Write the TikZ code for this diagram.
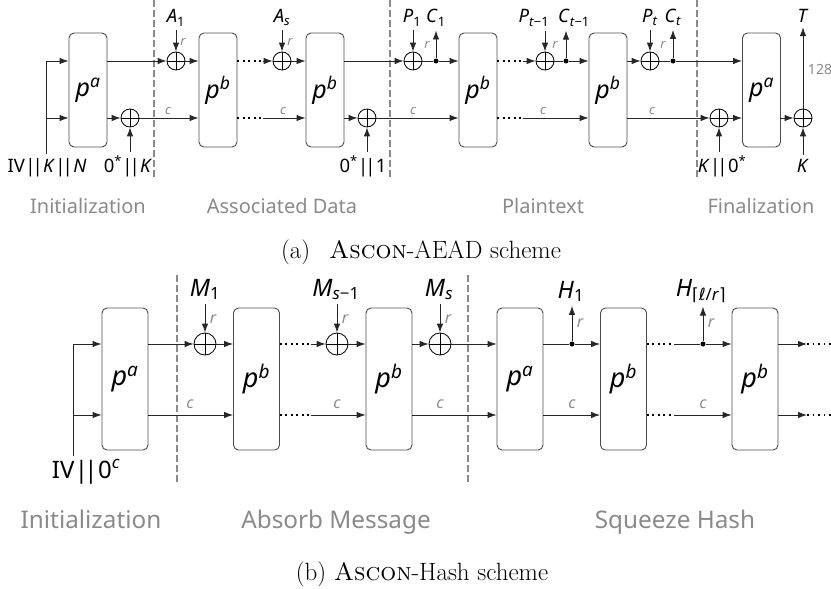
\documentclass[tikz,border=0pt]{standalone}
\usepackage{fontspec}
\newfontfamily\fira{Noto Sans}
\newfontfamily\dv{DejaVu Sans}
\usetikzlibrary{arrows.meta}
\definecolor{lg}{HTML}{8A8A8A}
\newcommand\dbar{\kern0.02em|\kern-0.16em|\kern0.02em}
\tikzset{
 ln/.style={draw=black!85, line width=0.9pt},
 arr/.style={ln, -{Latex[length=9pt,width=6.5pt]}},
 dotl/.style={draw=black, line width=1.7pt, dash pattern=on 1.7pt off 3.8pt},
 sep/.style={draw=lg, line width=2.4pt, dash pattern=on 6.5pt off 3.5pt},
 boxa/.style={draw=black!70, line width=0.9pt, rounded corners=5pt, minimum width=38pt, minimum height=114pt, inner sep=0pt, font=\fira\itshape\fontsize{25}{30}\selectfont},
 boxb/.style={boxa, minimum width=46pt, minimum height=142pt, font=\fira\itshape\fontsize{27}{30}\selectfont},
 xo/.style={circle, draw=black, line width=0.8pt, minimum size=18pt, inner sep=0pt, path picture={\draw[line width=0.8pt] (path picture bounding box.north) -- (path picture bounding box.south) (path picture bounding box.west) -- (path picture bounding box.east);}},
 xob/.style={xo, minimum size=22pt},
 jd/.style={circle, fill=black, minimum size=5pt, inner sep=0pt},
 la/.style={font=\fira\fontsize{18.5}{21}\selectfont, inner xsep=0pt, inner ysep=4pt, anchor=base},
 lb/.style={la, font=\fira\fontsize{24}{28}\selectfont},
 ga/.style={text=lg, font=\fira\itshape\fontsize{13}{15}\selectfont, inner sep=0pt},
 gb/.style={ga, font=\fira\itshape\fontsize{16}{18}\selectfont},
 sta/.style={text=lg, font=\fira\fontsize{20}{23}\selectfont, anchor=base, inner sep=0pt},
 stb/.style={sta, font=\fira\fontsize{24.3}{28}\selectfont},
 capt/.style={font=\fontsize{25}{29}\selectfont, anchor=base, inner sep=0pt},
}
\begin{document}
\begin{tikzpicture}[x=1pt,y=-1pt]
\useasboundingbox (0,0) rectangle (831,589);
% ================= (a) =================
\coordinate (s1t) at (154,0); \coordinate (s1b) at (154,178);
\coordinate (s2t) at (390,0); \coordinate (s2b) at (390,178);
\coordinate (s3t) at (697,0); \coordinate (s3b) at (697,178);
\draw[sep] (s1t) -- (s1b); \draw[sep] (s2t) -- (s2b); \draw[sep] (s3t) -- (s3b);

\node[boxa] (a1) at (88,90) {p\textsuperscript{a}};
\node[boxa] (a2) at (218,90) {p\textsuperscript{b}};
\node[boxa] (a3) at (325,90) {p\textsuperscript{b}};
\node[boxa] (a4) at (478,90) {p\textsuperscript{b}};
\node[boxa] (a5) at (608,90) {p\textsuperscript{b}};
\node[boxa] (a6) at (761.5,90) {p\textsuperscript{a}};

% input
\node[la] (lIV) at (47,172) {IV\dbar\textit{K}\dbar\textit{N}};
\coordinate (iat) at (46,61); \coordinate (iab) at (46,118);
\draw[ln] (lIV.north-|iat) -- (iat);
\draw[arr] (iat) -- (a1.west|-iat);
\draw[arr] (iab) -- (a1.west|-iab);

% key xor
\node[xo] (xk) at (130,118) {};
\node[la] (lK0) at (128,172) {0\textsuperscript{*}\dbar\textit{K}};
\draw[arr] (a1.east|-xk) -- (xk);
\draw[arr] (lK0.north-|xk) -- (xk);

% A1
\node[xo] (xa1) at (176,61) {};
\node[la] (lA1) at (176,23) {\textit{A}\textsubscript{1}};
\draw[arr] (lA1.south-|xa1) -- (xa1);
\node[ga] (r1) at (183,42) {r};
\draw[arr] (a1.east|-xa1) -- (xa1);
\draw[arr] (xa1) -- (a2.west|-xa1);
\draw[arr] (xk) -- (a2.west|-xk);
\node[ga] (c1) at (168,111) {c};

% A_s
\node[xo] (xas) at (282,61) {};
\node[la] (lAs) at (282,23) {\textit{A}\textsubscript{\textit{s}}};
\draw[arr] (lAs.south-|xas) -- (xas);
\node[ga] (r2) at (290,42) {r};
\coordinate (d1) at (263,61); \coordinate (d2) at (263,118);
\draw[dotl] (a2.east|-d1) -- (d1); \draw[arr] (d1) -- (xas);
\draw[dotl] (a2.east|-d2) -- (d2); \draw[arr] (d2) -- (a3.west|-d2);
\node[ga] (c2) at (283,111) {c};
\draw[arr] (xas) -- (a3.west|-xas);

% 0*||1
\node[xo] (x1) at (367,118) {};
\node[la] (l01) at (363,172) {0\textsuperscript{*}\dbar 1};
\draw[arr] (a3.east|-x1) -- (x1);
\draw[arr] (l01.north-|x1) -- (x1);

% P1 C1
\node[xo] (xp1) at (413,61) {};
\node[jd] (jc1) at (436,61) {};
\node[la] (lP1) at (412,23) {\textit{P}\textsubscript{1}};
\node[la] (lC1) at (436,23) {\textit{C}\textsubscript{1}};
\draw[arr] (lP1.south-|xp1) -- (xp1);
\draw[arr] (jc1) -- (lC1.south-|jc1);
\node[ga] (r3) at (427,45) {r};
\draw[arr] (a3.east|-xp1) -- (xp1);
\draw[ln] (xp1) -- (jc1);
\draw[arr] (jc1) -- (a4.west|-jc1);
\draw[arr] (x1) -- (a4.west|-x1);
\node[ga] (c3) at (413,111) {c};

% P_{t-1} C_{t-1}
\node[xo] (xp2) at (545,61) {};
\node[jd] (jc2) at (566,61) {};
\node[la] (lP2) at (534,23) {\textit{P}\textsubscript{\textit{t}−1}};
\node[la] (lC2) at (574,23) {\textit{C}\textsubscript{\textit{t}−1}};
\draw[arr] (lP2.south-|xp2) -- (xp2);
\draw[arr] (jc2) -- (lC2.south-|jc2);
\node[ga] (r4) at (555,45) {r};
\coordinate (d3) at (523,61); \coordinate (d4) at (523,118);
\draw[dotl] (a4.east|-d3) -- (d3); \draw[arr] (d3) -- (xp2);
\draw[ln] (xp2) -- (jc2); \draw[arr] (jc2) -- (a5.west|-jc2);
\draw[dotl] (a4.east|-d4) -- (d4); \draw[arr] (d4) -- (a5.west|-d4);
\node[ga] (c4) at (543,111) {c};

% P_t C_t
\node[xo] (xp3) at (650,61) {};
\node[jd] (jc3) at (673,61) {};
\node[la] (lP3) at (650,23) {\textit{P}\textsubscript{\textit{t}}};
\node[la] (lC3) at (673,23) {\textit{C}\textsubscript{\textit{t}}};
\draw[arr] (lP3.south-|xp3) -- (xp3);
\draw[arr] (jc3) -- (lC3.south-|jc3);
\node[ga] (r5) at (663,45) {r};
\draw[arr] (a5.east|-xp3) -- (xp3); \draw[ln] (xp3) -- (jc3); \draw[arr] (jc3) -- (a6.west|-jc3);
\node[xo] (xk2) at (719,118) {};
\draw[arr] (a5.east|-xk2) -- (xk2);
\node[ga] (c5) at (652,111) {c};
\node[la] (lK2) at (722,172) {\textit{K}\dbar 0\textsuperscript{*}};
\draw[arr] (lK2.north-|xk2) -- (xk2);
\draw[arr] (xk2) -- (a6.west|-xk2);

% finalization
\node[xo] (xt) at (803,118) {};
\draw[arr] (a6.east|-xt) -- (xt);
\node[la] (lK3) at (803,172) {\textit{K}};
\draw[arr] (lK3.north) -- (xt);
\node[la] (lT) at (803,23) {\textit{T}};
\draw[arr] (xt) -- (lT.south);
\node[ga, font=\fira\fontsize{14}{16}\selectfont] (n128) at (820,70) {128};

\node[sta] (sa1) at (88,213) {Initialization};
\node[sta] (sa2) at (282,213) {Associated Data};
\node[sta] (sa3) at (543,213) {Plaintext};
\node[sta] (sa4) at (761,213) {Finalization};
\node[capt] (capa) at (421,258) {(a)\hspace{0.45em} \textsc{Ascon}-AEAD scheme};

% ================= (b) =================
\coordinate (t1t) at (177,275); \coordinate (t1b) at (177,485);
\coordinate (t2t) at (468,275); \coordinate (t2b) at (468,485);
\draw[sep] (t1t) -- (t1b); \draw[sep] (t2t) -- (t2b);

\node[boxb] (b1) at (125,379) {p\textsuperscript{a}};
\node[boxb] (b2) at (256.5,379) {p\textsuperscript{b}};
\node[boxb] (b3) at (389,379) {p\textsuperscript{b}};
\node[boxb] (b4) at (520,379) {p\textsuperscript{a}};
\node[boxb] (b5) at (623.5,379) {p\textsuperscript{b}};
\node[boxb] (b6) at (755,379) {p\textsuperscript{b}};

\node[lb] (lIV2) at (86,478) {IV\dbar 0\textsuperscript{\textit{c}}};
\coordinate (ibt) at (73,344); \coordinate (ibb) at (73,415);
\draw[ln] (lIV2.north-|ibt) -- (ibt);
\draw[arr] (ibt) -- (b1.west|-ibt); \draw[arr] (ibb) -- (b1.west|-ibb);

% M1
\node[xob] (xm1) at (205,344) {};
\node[lb] (lM1) at (205,296) {\textit{M}\textsubscript{1}};
\draw[arr] (lM1.south-|xm1) -- (xm1);
\node[gb] (rb1) at (213,319) {r};
\draw[arr] (b1.east|-xm1) -- (xm1); \draw[arr] (xm1) -- (b2.west|-xm1);
\draw[arr] (b1.east|-ibb) -- (b2.west|-ibb);
\node[gb] (cb1) at (190,404) {c};

% M_{s-1}
\node[xob] (xm2) at (337,344) {};
\node[lb] (lM2) at (336,296) {\textit{M}\textsubscript{\textit{s}−1}};
\draw[arr] (lM2.south-|xm2) -- (xm2);
\node[gb] (rb2) at (345,319) {r};
\coordinate (e1) at (311,344); \coordinate (e2) at (311,415);
\draw[dotl] (b2.east|-e1) -- (e1); \draw[arr] (e1) -- (xm2); \draw[arr] (xm2) -- (b3.west|-xm2);
\draw[dotl] (b2.east|-e2) -- (e2); \draw[arr] (e2) -- (b3.west|-e2);
\node[gb] (cb2) at (337,404) {c};

% M_s
\node[xob] (xm3) at (440,344) {};
\node[lb] (lM3) at (439,296) {\textit{M}\textsubscript{\textit{s}}};
\draw[arr] (lM3.south-|xm3) -- (xm3);
\node[gb] (rb3) at (448,319) {r};
\draw[arr] (b3.east|-xm3) -- (xm3); \draw[arr] (xm3) -- (b4.west|-xm3);
\draw[arr] (b3.east|-e2) -- (b4.west|-e2);
\node[gb] (cb3) at (440,404) {c};

% H1
\node[jd] (jh1) at (572,344) {};
\node[lb] (lH1) at (571,298) {\textit{H}\textsubscript{1}};
\draw[arr] (jh1) -- (lH1.south-|jh1);
\node[gb] (rb4) at (580,323) {r};
\draw[ln] (b4.east|-jh1) -- (jh1); \draw[arr] (jh1) -- (b5.west|-jh1);
\draw[arr] (b4.east|-e2) -- (b5.west|-e2);
\node[gb] (cb4) at (572,404) {c};

% H_ceil
\coordinate (e3) at (674,344); \coordinate (e4) at (674,415);
\node[jd] (jh2) at (703,344) {};
\node[lb] (lH2) at (701,296) {\textit{H}\textsubscript{{\dv ⌈}{\dv\itshape ℓ}/\textit{r}{\dv ⌉}}};
\draw[arr] (jh2) -- (lH2.south-|jh2);
\node[gb] (rb5) at (711,323) {r};
\draw[dotl] (b5.east|-e3) -- (e3); \draw[ln] (e3) -- (jh2); \draw[arr] (jh2) -- (b6.west|-jh2);
\draw[dotl] (b5.east|-e4) -- (e4); \draw[arr] (e4) -- (b6.west|-e4);
\node[gb] (cb5) at (703,404) {c};

% tail
\coordinate (e5) at (807,344); \coordinate (e6) at (807,415);
\coordinate (e7) at (831,344); \coordinate (e8) at (831,415);
\draw[arr] (b6.east|-e5) -- (e5); \draw[dotl] (e5) -- (e7);
\draw[arr] (b6.east|-e6) -- (e6); \draw[dotl] (e6) -- (e8);

\node[stb] (sb1) at (91,528) {Initialization};
\node[stb] (sb2) at (336,528) {Absorb Message};
\node[stb] (sb3) at (675,528) {Squeeze Hash};
\node[capt] (capb) at (422,580) {(b) \textsc{Ascon}-Hash scheme};
\end{tikzpicture}
\end{document}
